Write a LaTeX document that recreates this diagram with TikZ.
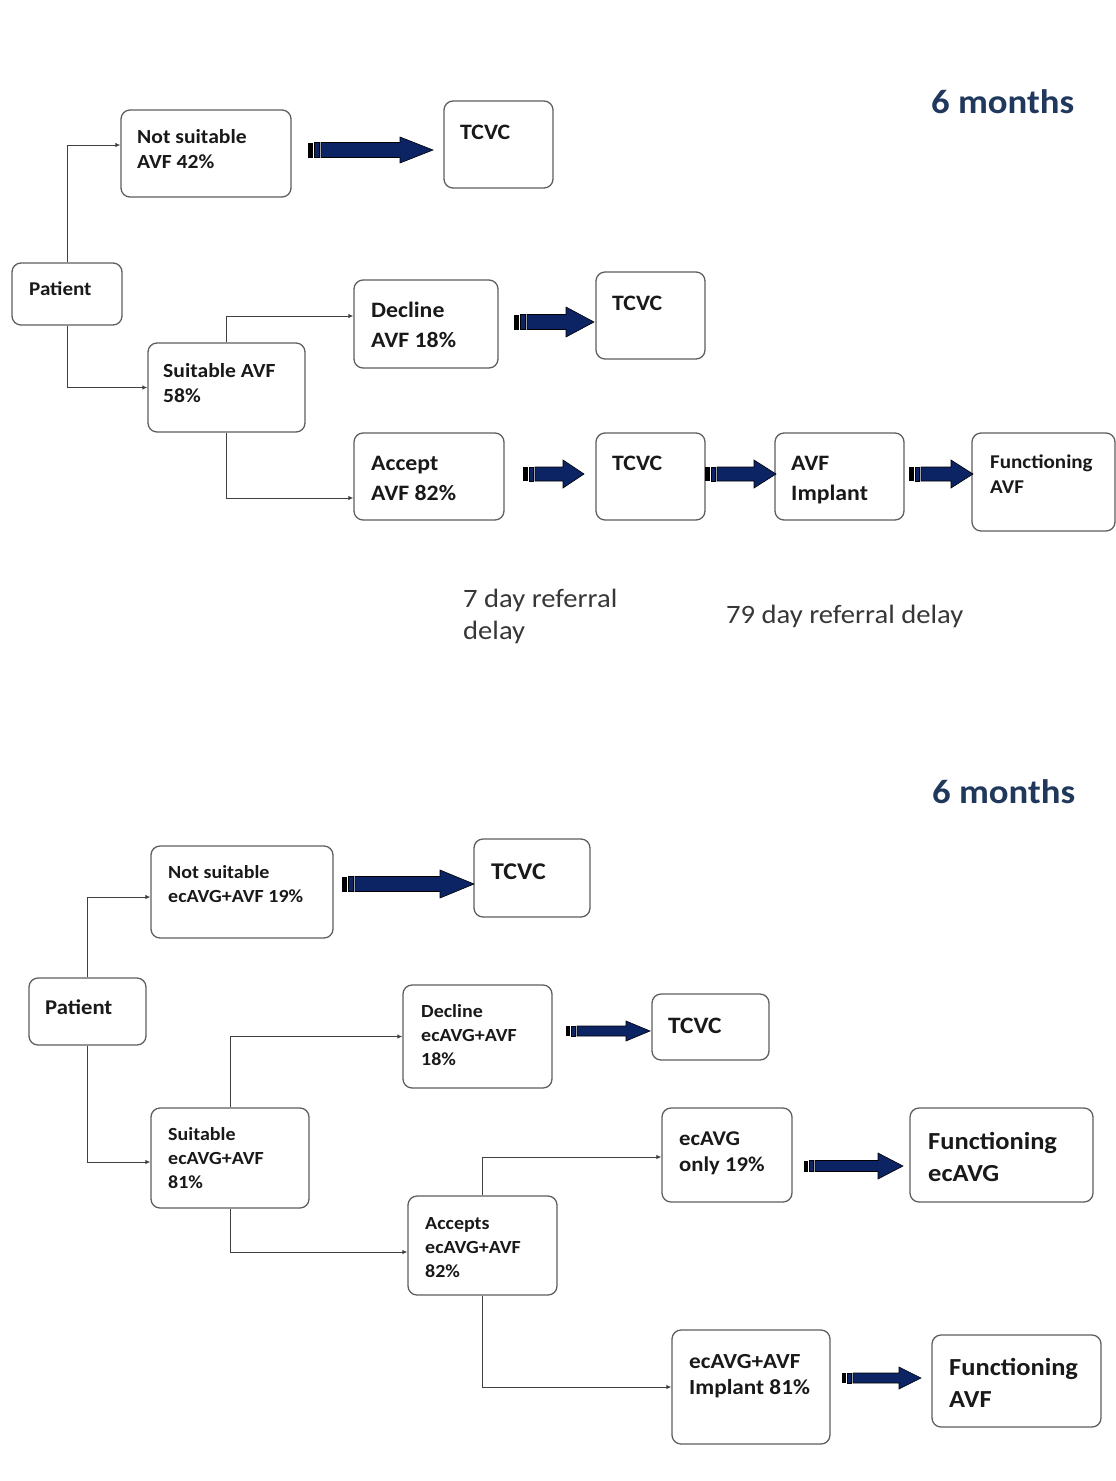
\documentclass[tikz,border=0pt]{standalone}
\usepackage{fontspec}
\setmainfont{Carlito}[FakeStretch=1.08]
\usetikzlibrary{arrows.meta,fit}

\definecolor{arrowblue}{RGB}{12,36,100}
\definecolor{titleblue}{RGB}{31,56,92}
\definecolor{boxline}{RGB}{95,95,95}
\definecolor{delaygray}{RGB}{55,55,55}

\newcommand\fsz[2]{\fontsize{#1}{#2}\selectfont}

% block arrow: x-start, x-end, y, shaft half height, head half height, head length, tail bar width
\newcommand\blockarrow[7]{%
  \fill[black] (#1,#3-#4) rectangle (#1+#7,#3+#4);
  \filldraw[fill=arrowblue,draw=black,line width=0.6pt]
    (#1+#7+1.5,#3-#4) rectangle (#1+2*#7+1.5,#3+#4);
  \filldraw[fill=arrowblue,draw=black,line width=0.6pt]
    (#1+2*#7+3,#3-#4) -- (#2-#6,#3-#4) -- (#2-#6,#3-#5) -- (#2,#3)
    -- (#2-#6,#3+#5) -- (#2-#6,#3+#4) -- (#1+2*#7+3,#3+#4) -- cycle;
}

% text nodes are anchored on the baseline of their last line
\tikzset{
  stagebox/.style={draw=boxline, line width=1.3pt, rounded corners=9pt,
                   fill=white, inner sep=0pt},
  boxtext/.style={anchor=base west, inner sep=0pt, align=left,
                  text=black!90, font=\bfseries},
  conn/.style={draw=black!75, line width=1pt,
               -{Latex[length=5pt,width=4.5pt]}},
  delaytext/.style={anchor=base west, inner sep=0pt, align=left,
                    text=delaygray},
  periodtext/.style={anchor=base west, inner sep=0pt, text=titleblue,
                     font=\bfseries\fsz{34}{40}},
}

\begin{document}
\begin{tikzpicture}[x=1pt,y=-1pt]
\useasboundingbox[fill=white] (0,0) rectangle (1116,1481);

% ---------------- upper pathway: AVF ----------------
\node[periodtext] (per1) at (931,113) {6 months};

\node[stagebox, fit={(12,263) (122,325)}] (pat1) {};
\node[boxtext, font=\bfseries\fsz{19.5}{24}] (pat1t) at (29,295) {Patient};

\node[stagebox, fit={(121,110) (291,197)}] (ns1) {};
\node[boxtext, font=\bfseries\fsz{20}{25}] (ns1t) at (137,168) {Not suitable\\AVF 42\%};

\node[stagebox, fit={(444,101) (553,188)}] (tcvc1) {};
\node[boxtext, font=\bfseries\fsz{22}{26}] (tcvc1t) at (460,139) {TCVC};

\node[stagebox, fit={(148,343) (305,432)}] (suit1) {};
\node[boxtext, font=\bfseries\fsz{20}{25}] (suit1t) at (163,402) {Suitable AVF\\58\%};

\node[stagebox, fit={(354,280) (498,368)}] (dec1) {};
\node[boxtext, font=\bfseries\fsz{22}{30}] (dec1t) at (371,347) {Decline\\AVF 18\%};

\node[stagebox, fit={(596,272) (705,359)}] (tcvc2) {};
\node[boxtext, font=\bfseries\fsz{22}{26}] (tcvc2t) at (612,310) {TCVC};

\node[stagebox, fit={(354,433) (504,520)}] (acc1) {};
\node[boxtext, font=\bfseries\fsz{22}{30}] (acc1t) at (371,500) {Accept\\AVF 82\%};

\node[stagebox, fit={(596,433) (705,520)}] (tcvc3) {};
\node[boxtext, font=\bfseries\fsz{22}{26}] (tcvc3t) at (612,470) {TCVC};

\node[stagebox, fit={(775,433) (904,520)}] (imp1) {};
\node[boxtext, font=\bfseries\fsz{22}{30}] (imp1t) at (791,500) {AVF\\Implant};

\node[stagebox, fit={(972,433) (1115,531)}] (fun1) {};
\node[boxtext, font=\bfseries\fsz{19.5}{25}] (fun1t) at (990,493) {Functioning\\AVF};

\node[delaytext, font=\fsz{26.5}{32}] (del1) at (463,639) {7 day referral\\delay};
\node[delaytext, font=\fsz{26.5}{32}] (del2) at (726,623) {79 day referral delay};

\draw[conn] (pat1.north) |- ([yshift=8.5pt]ns1.west);
\draw[conn] (pat1.south) |- (suit1.west);
\draw[conn] (suit1.north) |- ([yshift=8pt]dec1.west);
\draw[conn] (suit1.south) |- ([yshift=-21.5pt]acc1.west);

\blockarrow{308}{433}{150}{7.5}{13}{33}{5}
\blockarrow{514}{594}{322}{7.5}{15}{28}{5}
\blockarrow{523}{584}{474}{7}{14}{21}{4.5}
\blockarrow{705}{776}{474}{7}{14}{22}{4.5}
\blockarrow{909}{973}{474}{7}{14}{22}{4.5}

% ---------------- lower pathway: ecAVG + AVF ----------------
\node[periodtext] (per2) at (932,803) {6 months};

\node[stagebox, fit={(29,978) (146,1045)}] (pat2) {};
\node[boxtext, font=\bfseries\fsz{21}{26}] (pat2t) at (45,1014) {Patient};

\node[stagebox, fit={(151,846) (333,938)}] (ns2) {};
\node[boxtext, font=\bfseries\fsz{18.5}{24}] (ns2t) at (168,902) {Not suitable\\ecAVG+AVF 19\%};

\node[stagebox, fit={(474,839) (590,917)}] (tcvc4) {};
\node[boxtext, font=\bfseries\fsz{24}{28}] (tcvc4t) at (491,879) {TCVC};

\node[stagebox, fit={(151,1108) (309,1208)}] (suit2) {};
\node[boxtext, font=\bfseries\fsz{18.5}{24}] (suit2t) at (168,1188) {Suitable\\ecAVG+AVF\\81\%};

\node[stagebox, fit={(403,985) (552,1088)}] (dec2) {};
\node[boxtext, font=\bfseries\fsz{18.5}{24}] (dec2t) at (421,1065) {Decline\\ecAVG+AVF\\18\%};

\node[stagebox, fit={(652,994) (769,1060)}] (tcvc5) {};
\node[boxtext, font=\bfseries\fsz{23.5}{28}] (tcvc5t) at (668,1033) {TCVC};

\node[stagebox, fit={(408,1196) (557,1295)}] (acc2) {};
\node[boxtext, font=\bfseries\fsz{18.5}{24}] (acc2t) at (425,1277) {Accepts\\ecAVG+AVF\\82\%};

\node[stagebox, fit={(662,1108) (792,1202)}] (only) {};
\node[boxtext, font=\bfseries\fsz{21}{26}] (onlyt) at (679,1171) {ecAVG\\only 19\%};

\node[stagebox, fit={(910,1108) (1093,1202)}] (fun2) {};
\node[boxtext, font=\bfseries\fsz{24.5}{32}] (fun2t) at (928,1181) {Functioning\\ecAVG};

\node[stagebox, fit={(672,1330) (830,1444)}] (imp2) {};
\node[boxtext, font=\bfseries\fsz{21.5}{26}] (imp2t) at (689,1394) {ecAVG+AVF\\Implant 81\%};

\node[stagebox, fit={(932,1335) (1101,1427)}] (fun3) {};
\node[boxtext, font=\bfseries\fsz{24.5}{32}] (fun3t) at (949,1407) {Functioning\\AVF};

\draw[conn] (pat2.north) |- ([yshift=-5pt]ns2.west);
\draw[conn] (pat2.south) |- ([yshift=-4pt]suit2.west);
\draw[conn] (suit2.north) |- (dec2.west);
\draw[conn] (suit2.south) |- ([yshift=-6.5pt]acc2.west);
\draw[conn] (acc2.north) |- ([yshift=-2pt]only.west);
\draw[conn] (acc2.south) |- (imp2.west);

\blockarrow{342}{474}{884}{7.5}{14}{34}{5}
\blockarrow{566}{650}{1031}{5}{10}{24}{4}
\blockarrow{804}{903}{1166}{5.5}{13}{25}{4}
\blockarrow{842}{921}{1378}{5}{11}{22}{4}
\end{tikzpicture}
\end{document}
